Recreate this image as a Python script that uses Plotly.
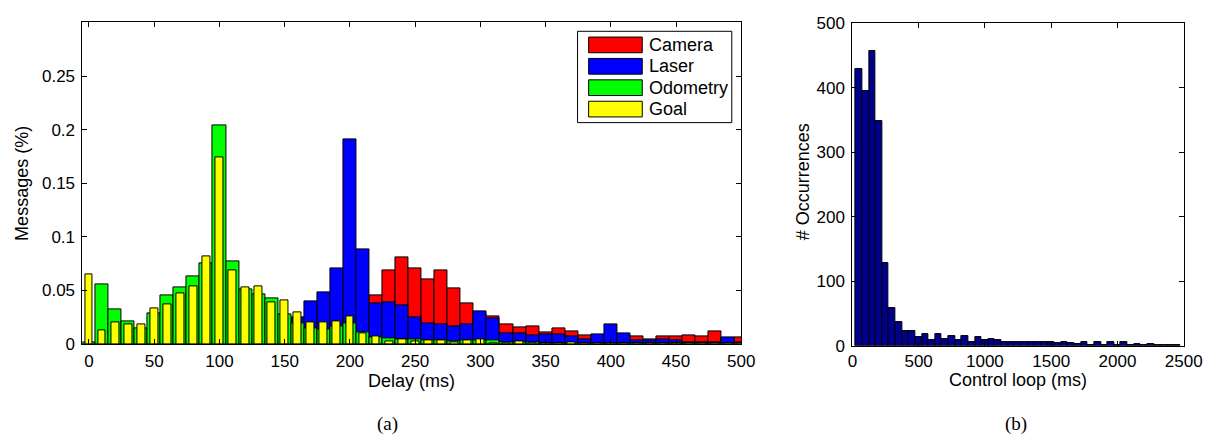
import plotly.graph_objects as go

W, H = 1225, 445

# ---------------- data: left chart (delay histogram, % of messages) ----------------
delay_bins = list(range(0, 501, 10))

camera = [0, 0, 0, 0, 0, 0, 0, 0, 0, 0,
          0, 0, 0, 0, 0, 0, 0, 0, 0, 0,
          0, 0, 0.0452, 0.069, 0.0804, 0.0708, 0.0607, 0.0685, 0.0518, 0.0381,
          0.029, 0.0256, 0.0179, 0.0155, 0.0164, 0.011, 0.0149, 0.0119, 0.0077, 0.006,
          0.008, 0.008, 0.0068, 0.0048, 0.0068, 0.0068, 0.0077, 0.0068, 0.0119, 0.005,
          0.006]

laser = [0, 0, 0, 0, 0, 0, 0, 0, 0, 0,
         0, 0, 0, 0, 0, 0, 0.0244, 0.0396, 0.0485, 0.0702,
         0.1905, 0.0881, 0.0381, 0.0393, 0.0363, 0.0247, 0.0193, 0.0179, 0.0167, 0.0185,
         0.0304, 0.0238, 0.0095, 0.0101, 0.0077, 0.0088, 0.0086, 0.0068, 0.0046, 0.0089,
         0.0185, 0.0101, 0.0036, 0.003, 0.0042, 0.003, 0.0015, 0.0012, 0.002, 0.006,
         0.002]

odometry = [0.0015, 0.056, 0.0327, 0.0208, 0.0143, 0.0283, 0.0452, 0.053, 0.0631, 0.0756,
            0.2042, 0.0768, 0.0512, 0.0467, 0.0423, 0.0274, 0.0193, 0.0149, 0.014, 0.0164,
            0.019, 0.0113, 0.0065, 0.005, 0.004, 0.0042, 0.003, 0.003, 0.0025, 0.003,
            0.003, 0.003, 0.0018, 0.0015, 0.0015, 0.001, 0.001, 0.001, 0.001, 0.001,
            0.001, 0.001, 0.001, 0.001, 0.001, 0.001, 0.001, 0.001, 0.001, 0.001,
            0.001]

goal = [0.0646, 0.0125, 0.0202, 0.0179, 0.0179, 0.0333, 0.0366, 0.0476, 0.0539, 0.0813,
        0.174, 0.0685, 0.0524, 0.0539, 0.039, 0.0411, 0.0292, 0.0202, 0.0202, 0.0211,
        0.0256, 0.0101, 0.0071, 0.0024, 0.0045, 0.0024, 0.0036, 0.0036, 0.0015, 0.0036,
        0.0042, 0.001, 0.0005, 0.0024, 0.001, 0.0005, 0.0005, 0.002, 0.0005, 0.0005,
        0.0005, 0.0005, 0.0005, 0.0005, 0.0005, 0.0005, 0.0005, 0.0005, 0.0005, 0.0005,
        0.0005]

series_names = ["Camera", "Laser", "Odometry", "Goal"]
series_colors = ["#FF0000", "#0000FF", "#00FF00", "#FFFF00"]
series_values = [camera, laser, odometry, goal]
series_widths = [10, 10, 10, 6]

y1_ticks = [0, 0.05, 0.1, 0.15, 0.2, 0.25]
y1_labels = ["0", "0.05", "0.1", "0.15", "0.2", "0.25"]
x1_ticks = [0, 50, 100, 150, 200, 250, 300, 350, 400, 450, 500]

# ---------------- data: right chart (control loop histogram) ----------------
loop_bins = list(range(50, 2451, 50))
loop_counts = [429, 394, 456, 348, 128, 59, 37, 22, 22, 13,
               18, 9, 18, 10, 15, 8, 15, 6, 14, 8,
               11, 9, 5, 6, 6, 6, 6, 6, 6, 6,
               4, 5, 4, 2, 5, 1, 5, 1, 5, 1,
               5, 1, 3, 1, 2, 1, 1, 1, 1]
x2_ticks = [0, 500, 1000, 1500, 2000, 2500]
y2_ticks = [0, 100, 200, 300, 400, 500]

FONT = "Liberation Sans, Arial, sans-serif"
SERIF = "Liberation Serif, Times New Roman, serif"

def pxx(x):
    return x / W

def pyy(y):
    return 1 - y / H

fig = go.Figure()

for name, col, vals, wd in zip(series_names, series_colors, series_values, series_widths):
    fig.add_trace(go.Bar(
        x=delay_bins, y=vals, width=wd, name=name,
        marker=dict(color=col, line=dict(color="black", width=1)),
        xaxis="x", yaxis="y", showlegend=False))

fig.add_trace(go.Bar(
    x=loop_bins, y=loop_counts, width=50, name="Control loop",
    marker=dict(color="#00008F", line=dict(color="black", width=1)),
    xaxis="x2", yaxis="y2", showlegend=False))

axis_common = dict(showgrid=False, zeroline=False, showline=True, linecolor="black",
                   linewidth=1, mirror="ticks", ticks="inside", ticklen=5,
                   tickcolor="black", tickfont=dict(family=FONT, size=17, color="black"))

fig.update_layout(
    width=W, height=H, margin=dict(l=0, r=0, t=0, b=0),
    paper_bgcolor="white", plot_bgcolor="white",
    barmode="overlay", bargap=0,
    xaxis=dict(domain=[79 / W, 751 / W], range=[-5, 500], tickvals=x1_ticks,
               anchor="y", ticklabelstandoff=2, **axis_common),
    yaxis=dict(domain=[pyy(350), pyy(14)], range=[0, 0.3], tickvals=y1_ticks,
               ticktext=y1_labels, anchor="x", ticklabelstandoff=3, **axis_common),
    xaxis2=dict(domain=[864.3 / W, 1202.3 / W], range=[0, 2500], tickvals=x2_ticks,
                anchor="y2", **axis_common),
    yaxis2=dict(domain=[pyy(351.7), pyy(14.7)], range=[0, 500], tickvals=y2_ticks,
                anchor="x2", ticklabelstandoff=3, **axis_common),
)

annotations = [
    dict(text="Delay (ms)", x=pxx(415), y=pyy(389)),
    dict(text="Control loop (ms)", x=pxx(1033), y=pyy(388)),
    dict(text="Messages (%)", x=pxx(18), y=pyy(182), textangle=-90),
    dict(text="# Occurrences", x=pxx(814), y=pyy(181), textangle=-90),
]
anns = []
for a in annotations:
    a.update(xref="paper", yref="paper", showarrow=False, xanchor="center",
             yanchor="middle", font=dict(family=FONT, size=18, color="black"))
    anns.append(a)
for txt, xc in [("(a)", 390), ("(b)", 1031)]:
    anns.append(dict(text=txt, x=pxx(xc), y=pyy(434), xref="paper", yref="paper",
                     showarrow=False, xanchor="center", yanchor="middle",
                     font=dict(family=SERIF, size=19, color="black")))

# custom legend (wide swatches like the original)
shapes = [dict(type="rect", xref="paper", yref="paper", x0=pxx(584), x1=pxx(741.3),
               y0=pyy(118.7), y1=pyy(23.3), line=dict(color="black", width=1),
               fillcolor="white", layer="above")]
for i, (name, col) in enumerate(zip(series_names, series_colors)):
    yc = 37.5 + 22.35 * i
    shapes.append(dict(type="rect", xref="paper", yref="paper", x0=pxx(595.3), x1=pxx(650),
                       y0=pyy(yc + 8.2), y1=pyy(yc - 8.2),
                       line=dict(color="black", width=1), fillcolor=col, layer="above"))
    anns.append(dict(text=name, x=pxx(655), y=pyy(yc), xref="paper", yref="paper",
                     showarrow=False, xanchor="left", yanchor="middle",
                     font=dict(family=FONT, size=18, color="black")))

fig.update_layout(annotations=anns, shapes=shapes)
fig.write_html("out.html")
